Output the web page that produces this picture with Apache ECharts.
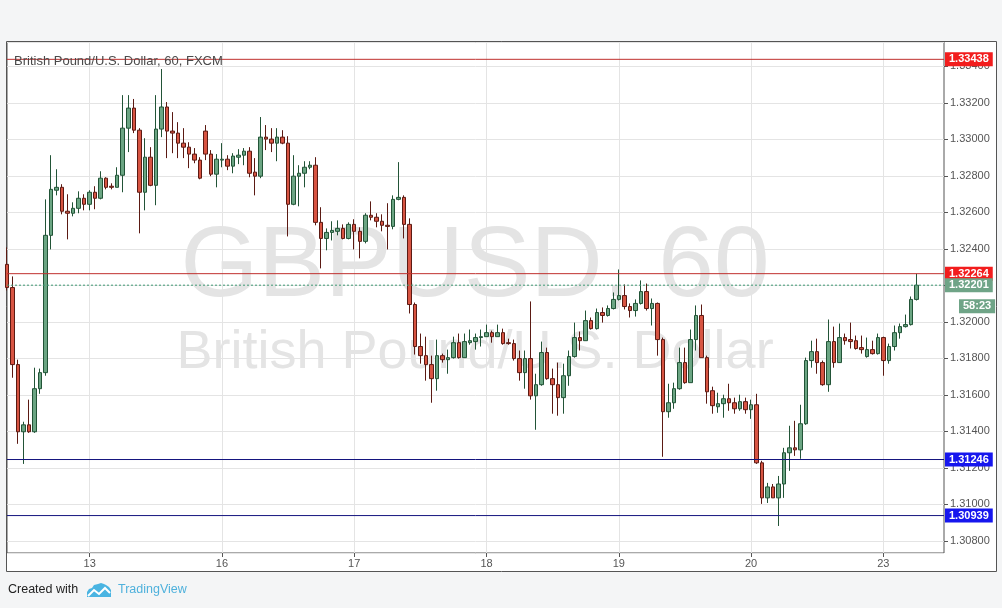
<!DOCTYPE html>
<html>
<head>
<meta charset="utf-8">
<title>GBPUSD, 60</title>
<script src="https://cdn.jsdelivr.net/npm/echarts@6/dist/echarts.min.js"></script>
<style>
  html, body { margin: 0; padding: 0; background: #f4f5f6; }
  #main { width: 1002px; height: 608px; }
</style>
</head>
<body>
<div id="main"></div>
<script>
// days on the time axis and how many hourly bars fall on each
const dayLabels = ['12', '13', '16', '17', '18', '19', '20', '23'];
const barsPerDay = [15, 24, 24, 24, 24, 24, 24, 7];
const firstHour = 9;
const emptySlots = 5;

// hourly bars: [open, close, low, high]
const ohlc = [
  [1.32315, 1.32188, 1.32172, 1.32408], [1.32188, 1.31766, 1.31694, 1.32249],
  [1.31766, 1.31398, 1.31332, 1.31793], [1.31398, 1.31436, 1.31222, 1.31453],
  [1.31436, 1.31398, 1.31392, 1.31574], [1.31398, 1.31634, 1.31392, 1.31749],
  [1.31634, 1.31722, 1.31606, 1.31744], [1.31722, 1.32474, 1.31705, 1.32671],
  [1.32474, 1.32726, 1.32397, 1.32913], [1.32721, 1.32737, 1.32693, 1.32836],
  [1.32737, 1.32606, 1.32589, 1.32754], [1.32606, 1.32595, 1.32452, 1.32699],
  [1.32595, 1.32622, 1.32578, 1.32655], [1.32622, 1.32677, 1.32595, 1.32715],
  [1.32677, 1.32644, 1.32611, 1.32699], [1.32644, 1.32710, 1.32611, 1.32721],
  [1.32710, 1.32677, 1.32617, 1.32743], [1.32677, 1.32787, 1.32671, 1.32825],
  [1.32787, 1.32737, 1.32726, 1.32792], [1.32743, 1.32737, 1.32726, 1.32759],
  [1.32737, 1.32803, 1.32737, 1.32847], [1.32803, 1.33061, 1.32710, 1.33242],
  [1.33061, 1.33171, 1.32930, 1.33242], [1.33171, 1.33050, 1.33034, 1.33221],
  [1.33050, 1.32710, 1.32485, 1.33061], [1.32710, 1.32902, 1.32611, 1.33006],
  [1.32902, 1.32748, 1.32743, 1.32957], [1.32748, 1.33056, 1.32639, 1.33242],
  [1.33056, 1.33177, 1.33012, 1.33385], [1.33177, 1.33045, 1.32897, 1.33204],
  [1.33045, 1.33034, 1.32924, 1.33149], [1.33034, 1.32979, 1.32897, 1.33094],
  [1.32979, 1.32957, 1.32897, 1.33061], [1.32957, 1.32919, 1.32842, 1.32984],
  [1.32919, 1.32886, 1.32869, 1.32952], [1.32886, 1.32787, 1.32781, 1.32902],
  [1.33045, 1.32919, 1.32886, 1.33078], [1.32919, 1.32809, 1.32798, 1.32941],
  [1.32809, 1.32891, 1.32737, 1.32919], [1.32886, 1.32891, 1.32847, 1.32979],
  [1.32891, 1.32853, 1.32831, 1.32913], [1.32853, 1.32908, 1.32814, 1.32924],
  [1.32902, 1.32913, 1.32864, 1.32946], [1.32913, 1.32935, 1.32858, 1.32952],
  [1.32935, 1.32814, 1.32792, 1.32957], [1.32820, 1.32798, 1.32693, 1.32897],
  [1.32798, 1.33012, 1.32787, 1.33122], [1.33012, 1.33001, 1.32941, 1.33078],
  [1.33001, 1.32979, 1.32930, 1.33061], [1.32979, 1.33012, 1.32880, 1.33061],
  [1.33012, 1.32979, 1.32973, 1.33050], [1.32979, 1.32644, 1.32468, 1.33017],
  [1.32644, 1.32798, 1.32639, 1.32913], [1.32798, 1.32814, 1.32633, 1.32858],
  [1.32814, 1.32847, 1.32737, 1.32880], [1.32847, 1.32858, 1.32836, 1.32880],
  [1.32858, 1.32545, 1.32529, 1.32902], [1.32545, 1.32457, 1.32293, 1.32628],
  [1.32457, 1.32490, 1.32392, 1.32512], [1.32490, 1.32501, 1.32446, 1.32551],
  [1.32496, 1.32512, 1.32474, 1.32556], [1.32512, 1.32457, 1.32452, 1.32534],
  [1.32457, 1.32534, 1.32452, 1.32545], [1.32534, 1.32496, 1.32397, 1.32562],
  [1.32496, 1.32441, 1.32348, 1.32518], [1.32441, 1.32584, 1.32430, 1.32595],
  [1.32584, 1.32573, 1.32556, 1.32660], [1.32573, 1.32551, 1.32518, 1.32595],
  [1.32551, 1.32529, 1.32496, 1.32589], [1.32529, 1.32523, 1.32397, 1.32650],
  [1.32523, 1.32671, 1.32507, 1.32693], [1.32671, 1.32682, 1.32666, 1.32875],
  [1.32682, 1.32534, 1.32457, 1.32693], [1.32534, 1.32095, 1.32046, 1.32567],
  [1.32095, 1.31865, 1.31821, 1.32106], [1.31865, 1.31815, 1.31771, 1.31936],
  [1.31815, 1.31766, 1.31678, 1.31919], [1.31766, 1.31689, 1.31557, 1.31815],
  [1.31689, 1.31815, 1.31623, 1.31903], [1.31815, 1.31793, 1.31777, 1.31826],
  [1.31793, 1.31804, 1.31716, 1.31848], [1.31804, 1.31886, 1.31799, 1.31919],
  [1.31886, 1.31804, 1.31799, 1.31936], [1.31804, 1.31892, 1.31804, 1.31936],
  [1.31886, 1.31897, 1.31875, 1.31958], [1.31892, 1.31914, 1.31848, 1.31936],
  [1.31914, 1.31919, 1.31865, 1.31958], [1.31919, 1.31941, 1.31919, 1.31985],
  [1.31941, 1.31919, 1.31886, 1.31952], [1.31919, 1.31941, 1.31919, 1.31985],
  [1.31941, 1.31881, 1.31875, 1.31963], [1.31886, 1.31881, 1.31875, 1.31908],
  [1.31881, 1.31799, 1.31788, 1.31903], [1.31799, 1.31722, 1.31678, 1.31843],
  [1.31722, 1.31799, 1.31634, 1.31843], [1.31799, 1.31595, 1.31574, 1.32112],
  [1.31595, 1.31656, 1.31409, 1.31716], [1.31656, 1.31832, 1.31650, 1.31892],
  [1.31832, 1.31689, 1.31683, 1.31859], [1.31689, 1.31656, 1.31497, 1.31744],
  [1.31656, 1.31585, 1.31486, 1.31777], [1.31585, 1.31705, 1.31497, 1.31771],
  [1.31705, 1.31810, 1.31650, 1.31843], [1.31810, 1.31914, 1.31804, 1.31996],
  [1.31914, 1.31897, 1.31843, 1.31947], [1.31897, 1.32007, 1.31897, 1.32062],
  [1.32007, 1.31963, 1.31958, 1.32024], [1.31963, 1.32051, 1.31958, 1.32073],
  [1.32051, 1.32035, 1.31996, 1.32079], [1.32035, 1.32073, 1.32029, 1.32090],
  [1.32073, 1.32123, 1.32068, 1.32161], [1.32123, 1.32144, 1.32117, 1.32287],
  [1.32144, 1.32084, 1.32068, 1.32205], [1.32084, 1.32062, 1.32024, 1.32101],
  [1.32062, 1.32101, 1.32029, 1.32123], [1.32101, 1.32166, 1.32095, 1.32227],
  [1.32166, 1.32073, 1.32062, 1.32210], [1.32073, 1.32101, 1.31980, 1.32128],
  [1.32101, 1.31903, 1.31815, 1.32106], [1.31903, 1.31508, 1.31261, 1.31914],
  [1.31508, 1.31557, 1.31475, 1.31661], [1.31557, 1.31634, 1.31524, 1.31667],
  [1.31634, 1.31777, 1.31628, 1.31859], [1.31777, 1.31667, 1.31661, 1.31859],
  [1.31667, 1.31903, 1.31667, 1.31958], [1.31903, 1.32035, 1.31843, 1.32090],
  [1.32035, 1.31804, 1.31804, 1.32095], [1.31804, 1.31617, 1.31552, 1.31815],
  [1.31623, 1.31541, 1.31497, 1.31645], [1.31535, 1.31552, 1.31502, 1.31612],
  [1.31552, 1.31579, 1.31475, 1.31601], [1.31579, 1.31557, 1.31513, 1.31661],
  [1.31557, 1.31524, 1.31497, 1.31585], [1.31524, 1.31563, 1.31513, 1.31601],
  [1.31563, 1.31519, 1.31497, 1.31585], [1.31519, 1.31546, 1.31469, 1.31574],
  [1.31546, 1.31228, 1.31222, 1.31606], [1.31228, 1.31036, 1.31003, 1.31239],
  [1.31036, 1.31096, 1.31008, 1.31118], [1.31096, 1.31036, 1.31036, 1.31112],
  [1.31036, 1.31112, 1.30882, 1.31156], [1.31112, 1.31283, 1.31036, 1.31310],
  [1.31283, 1.31310, 1.31184, 1.31431], [1.31310, 1.31299, 1.31266, 1.31458],
  [1.31299, 1.31442, 1.31250, 1.31546], [1.31442, 1.31788, 1.31436, 1.31804],
  [1.31788, 1.31837, 1.31749, 1.31897], [1.31837, 1.31777, 1.31716, 1.31908],
  [1.31777, 1.31656, 1.31650, 1.31788], [1.31656, 1.31892, 1.31617, 1.32013],
  [1.31892, 1.31777, 1.31749, 1.31974], [1.31777, 1.31914, 1.31777, 1.31991],
  [1.31914, 1.31897, 1.31875, 1.31936], [1.31903, 1.31892, 1.31854, 1.31996],
  [1.31897, 1.31854, 1.31848, 1.31925], [1.31859, 1.31848, 1.31826, 1.31925],
  [1.31810, 1.31848, 1.31804, 1.31914], [1.31848, 1.31826, 1.31821, 1.31897],
  [1.31826, 1.31914, 1.31821, 1.31936], [1.31914, 1.31788, 1.31705, 1.31919],
  [1.31788, 1.31865, 1.31771, 1.31881], [1.31865, 1.31941, 1.31843, 1.31980],
  [1.31941, 1.31974, 1.31908, 1.31991], [1.31974, 1.31985, 1.31969, 1.32040],
  [1.31985, 1.32123, 1.31980, 1.32139], [1.32123, 1.32201, 1.32117, 1.32264]
];

// horizontal levels drawn on the chart
const resistance = [1.33438, 1.32264];
const support = [1.31246, 1.30939];
const lastPrice = 1.32201;
const countdown = '58:23';

// build the hourly category names, e.g. "16 00:00"
const categories = [];
dayLabels.forEach((d, k) => {
  const start = k === 0 ? firstHour : 0;
  for (let h = 0; h < barsPerDay[k]; h++) {
    categories.push(d + ' ' + String(start + h).padStart(2, '0') + ':00');
  }
});
const lastDay = dayLabels[dayLabels.length - 1];
for (let h = 0; h < emptySlots; h++) {
  categories.push(lastDay + ' ' + String(barsPerDay[barsPerDay.length - 1] + h).padStart(2, '0') + ':00');
}
const isDayStart = (i, v) => v.endsWith(' 00:00');

const FONT = 'Liberation Sans, Arial, sans-serif';

// a level line across the whole time range, with its price tag at the right end
function levelLine(value, lineColor, tagColor, dash, tagText, offset) {
  return {
    type: 'line',
    data: [[categories[0], value], [categories[categories.length - 1], value]],
    clip: false,
    silent: true,
    symbol: 'none',
    z: 3,
    lineStyle: { color: lineColor, width: 1, type: dash || 'solid' },
    endLabel: {
      show: true,
      distance: 1,
      offset: offset || [0, 0],
      color: '#fff',
      fontSize: 11,
      fontWeight: 'bold',
      padding: [2, 4, 1, 4],
      backgroundColor: tagColor,
      formatter: () => tagText || value.toFixed(5)
    }
  };
}

let chart = echarts.init(document.getElementById('main'));
let option = {
  animation: false,
  textStyle: { fontFamily: FONT },
  grid: { left: 7, right: 58, top: 42, bottom: 55, show: true, borderColor: '#555', borderWidth: 1, backgroundColor: 'transparent' },
  xAxis: {
    type: 'category',
    data: categories,
    boundaryGap: false,
    axisLine: { show: false },
    axisTick: { show: true, interval: isDayStart, length: 4, lineStyle: { color: '#555' } },
    axisLabel: { interval: isDayStart, formatter: v => v.split(' ')[0], color: '#555', fontSize: 11, margin: 5 },
    splitLine: { show: true, interval: isDayStart, lineStyle: { color: '#e4e4e4' } }
  },
  yAxis: {
    type: 'value',
    position: 'right',
    min: 1.30734,
    max: 1.33533,
    splitNumber: 14,
    minInterval: 0.002,
    maxInterval: 0.002,
    axisLine: { show: false },
    axisTick: { show: true, length: 4, lineStyle: { color: '#555' } },
    axisLabel: { color: '#555', fontSize: 11, margin: 6, showMinLabel: false, showMaxLabel: false, formatter: v => v.toFixed(5) },
    splitLine: { lineStyle: { color: '#e4e4e4' } }
  },
  graphic: [
    { type: 'rect', z: -1, silent: true, shape: { x: 6.5, y: 41.5, width: 990, height: 530 }, style: { fill: '#fff', stroke: '#555', lineWidth: 1 } },
    { type: 'text', z: -1, silent: true, x: 475, y: 268, style: { text: 'GBPUSD, 60', fill: '#e4e4e4', font: '100px ' + FONT, textAlign: 'center', textVerticalAlign: 'middle' } },
    { type: 'text', z: -1, silent: true, x: 475, y: 353, style: { text: 'British Pound/U.S. Dollar', fill: '#e4e4e4', font: '54px ' + FONT, textAlign: 'center', textVerticalAlign: 'middle' } },
    { type: 'text', z: 10, silent: true, x: 14, y: 61, style: { text: 'British Pound/U.S. Dollar, 60, FXCM', fill: '#4a4a4a', font: '13px ' + FONT, textVerticalAlign: 'middle' } },
    { type: 'text', silent: true, x: 8, y: 590, style: { text: 'Created with', fill: '#222', font: '12.5px ' + FONT, textVerticalAlign: 'middle' } },
    { type: 'polygon', silent: true, shape: { points: [[87, 597], [87, 592], [89, 589], [92, 588], [94, 585], [98, 584], [101, 583], [104, 584], [106, 585], [109, 587], [111, 590], [111, 597]] }, style: { fill: '#4ab4e2' } },
    { type: 'polyline', silent: true, shape: { points: [[88, 596], [94, 590], [99, 594], [105, 588], [110, 593]] }, style: { stroke: '#fff', lineWidth: 2, fill: null } },
    { type: 'text', silent: true, x: 118, y: 590, style: { text: 'TradingView', fill: '#4fb1dc', font: '12.5px ' + FONT, textVerticalAlign: 'middle' } }
  ],
  series: [
    {
      type: 'candlestick',
      data: ohlc,
      barWidth: 4,
      itemStyle: {
        color: '#6ba583',
        color0: '#d75442',
        borderColor: '#225437',
        borderColor0: '#5b1a13',
        borderWidth: 1
      }
    },
    levelLine(resistance[0], '#c0302e', '#f21d1d'),
    levelLine(resistance[1], '#c0302e', '#f21d1d'),
    levelLine(support[0], '#14147e', '#1616ee'),
    levelLine(support[1], '#14147e', '#1616ee'),
    levelLine(lastPrice, '#3f9a74', '#6fa487', [2, 2]),
    levelLine(lastPrice, 'rgba(0,0,0,0)', '#6fa487', 'solid', countdown, [14, 21])
  ]
};
chart.setOption(option);
</script>
</body>
</html>
